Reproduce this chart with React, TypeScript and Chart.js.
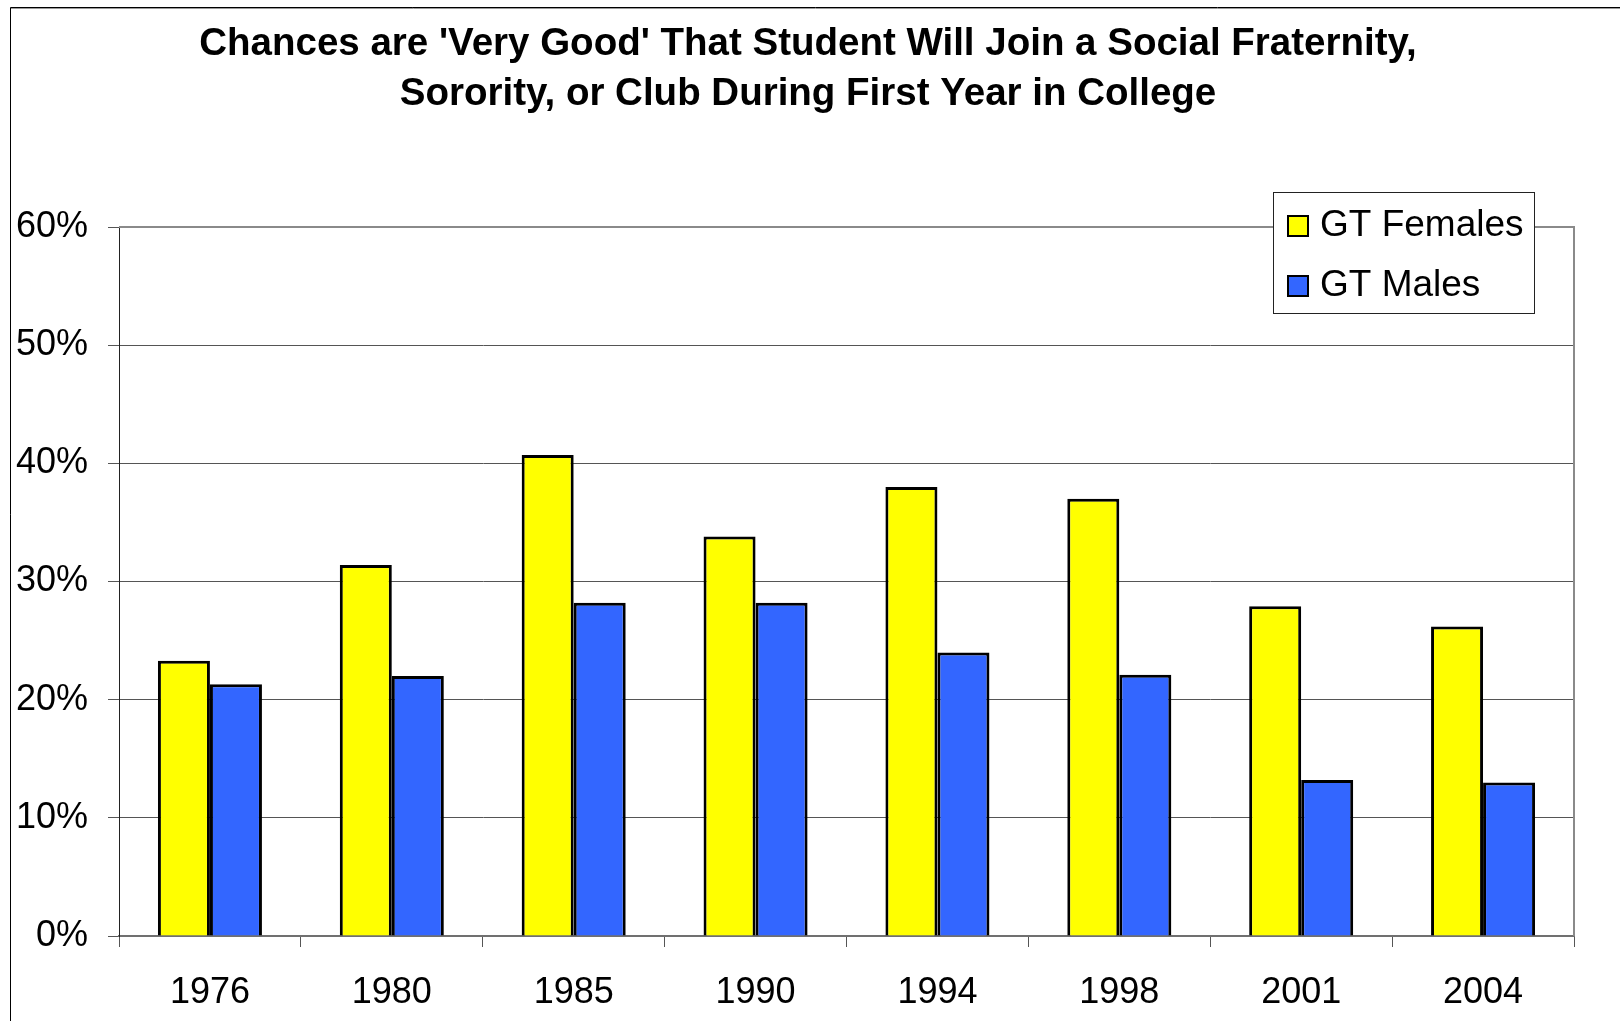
import React, { useEffect, useRef } from "react";
import { Chart, registerables } from "chart.js";

Chart.register(...registerables);

const titleLines = [
  "Chances are 'Very Good' That Student Will Join a Social Fraternity,",
  "Sorority, or Club During First Year in College",
];
const years = ["1976", "1980", "1985", "1990", "1994", "1998", "2001", "2004"];
const seriesNames = ["GT Females", "GT Males"];
const femaleValues = [23.3, 31.4, 40.7, 33.8, 38.0, 37.0, 27.9, 26.2];
const maleValues = [21.3, 22.0, 28.2, 28.2, 24.0, 22.1, 13.2, 13.0];
const seriesColors = ["#FFFF00", "#3366FF"];
const yMin = 0;
const yMax = 60;
const yStep = 10;

const FONT = "'Liberation Sans', Arial, Helvetica, sans-serif";

const decorPlugin = {
  id: "decor",
  beforeDraw(chart: any) {
    const { ctx, width, height } = chart;
    ctx.save();
    ctx.fillStyle = "#ffffff";
    ctx.fillRect(0, 0, width, height);
    ctx.strokeStyle = "#000000";
    ctx.lineWidth = 1;
    ctx.beginPath();
    ctx.moveTo(10.5, height);
    ctx.lineTo(10.5, 7.5);
    ctx.lineTo(width, 7.5);
    ctx.stroke();
    ctx.strokeStyle = "#9a9a9a";
    ctx.beginPath();
    ctx.moveTo(11, 8.5);
    ctx.lineTo(width, 8.5);
    ctx.stroke();
    ctx.fillStyle = "#000000";
    ctx.font = `bold 38.5px ${FONT}`;
    ctx.textAlign = "center";
    ctx.textBaseline = "middle";
    titleLines.forEach((t, i) => ctx.fillText(t, 808, 44 + i * 50));
    ctx.restore();
  },
  afterDatasetsDraw(chart: any) {
    const { ctx, chartArea } = chart;
    ctx.save();
    ctx.strokeStyle = "#8a8a8a";
    ctx.lineWidth = 2;
    ctx.beginPath();
    ctx.moveTo(chartArea.left, chartArea.top);
    ctx.lineTo(chartArea.right, chartArea.top);
    ctx.lineTo(chartArea.right, chartArea.bottom);
    ctx.stroke();
    ctx.restore();
  },
  afterDraw(chart: any) {
    const { ctx } = chart;
    ctx.save();
    const bx = 1273, by = 192, bw = 261, bh = 121;
    ctx.fillStyle = "#ffffff";
    ctx.fillRect(bx, by, bw, bh);
    ctx.strokeStyle = "#222222";
    ctx.lineWidth = 1;
    ctx.strokeRect(bx + 0.5, by + 0.5, bw, bh);
    ctx.font = `37px ${FONT}`;
    ctx.textAlign = "left";
    ctx.textBaseline = "middle";
    const rows = [226, 286];
    chart.data.datasets.forEach((ds: any, i: number) => {
      const cy = rows[i];
      ctx.fillStyle = ds.backgroundColor;
      ctx.fillRect(1288, cy - 10, 20, 20);
      ctx.strokeStyle = "#000000";
      ctx.lineWidth = 2;
      ctx.strokeRect(1288, cy - 10, 20, 20);
      ctx.fillStyle = "#000000";
      ctx.fillText(ds.label, 1320, cy);
    });
    ctx.restore();
  },
};

export default function App() {
  const ref = useRef<HTMLCanvasElement | null>(null);
  useEffect(() => {
    if (!ref.current) return;
    const chart = new Chart(ref.current, {
      type: "bar",
      data: {
        labels: years,
        datasets: [
          {
            label: seriesNames[0],
            data: femaleValues,
            backgroundColor: seriesColors[0],
            borderColor: "#000000",
            borderWidth: 3,
            categoryPercentage: 0.572,
            barPercentage: 1,
          },
          {
            label: seriesNames[1],
            data: maleValues,
            backgroundColor: seriesColors[1],
            borderColor: "#000000",
            borderWidth: 3,
            categoryPercentage: 0.572,
            barPercentage: 1,
          },
        ],
      },
      options: {
        animation: false,
        responsive: false,
        layout: { padding: { top: 227, right: 46, left: 0, bottom: 0 } },
        plugins: {
          legend: { display: false },
          title: { display: false },
          tooltip: { enabled: false },
        },
        scales: {
          x: {
            afterFit(scale: any) {
              scale.height = 85;
            },
            grid: {
              drawOnChartArea: false,
              drawTicks: true,
              tickLength: 11,
              color: "#555555",
              offset: true,
            },
            border: { display: true, color: "#707070", width: 2 },
            ticks: {
              color: "#000000",
              font: { family: FONT, size: 36 },
              padding: 24,
            },
          },
          y: {
            min: yMin,
            max: yMax,
            afterFit(scale: any) {
              scale.width = 119;
            },
            grid: {
              color: "#555555",
              lineWidth: 1,
              drawTicks: true,
              tickLength: 11,
            },
            border: { display: true, color: "#222222", width: 1 },
            ticks: {
              stepSize: yStep,
              color: "#000000",
              font: { family: FONT, size: 36 },
              padding: 20,
              callback: (v: any) => `${v}%`,
            },
          },
        },
      },
      plugins: [decorPlugin],
    });
    return () => chart.destroy();
  }, []);
  return (
    <div style={{ position: "fixed", left: 0, top: 0, width: 1620, height: 1021, background: "#fff" }}>
      <canvas ref={ref} width={1620} height={1021} style={{ display: "block", width: 1620, height: 1021 }} />
    </div>
  );
}
